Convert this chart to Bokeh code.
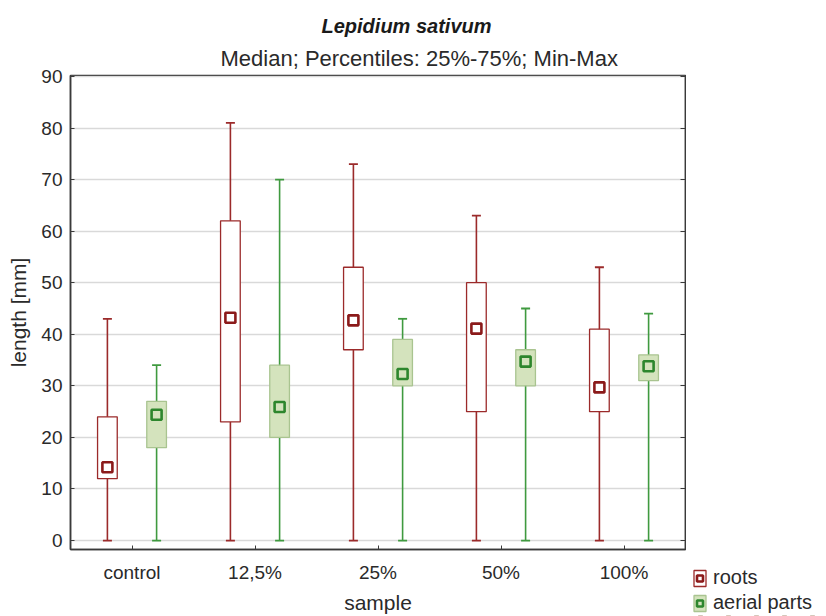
from bokeh.plotting import figure
from bokeh.layouts import row, column, Spacer
from bokeh.models import (ColumnDataSource, Range1d, LinearAxis, Legend, Title,
                          LegendItem, FixedTicker, FactorRange)
from bokeh.transform import dodge
from bokeh.embed import file_html
from bokeh.resources import INLINE

# ---- data ----
categories = ["control", "12,5%", "25%", "50%", "100%"]
roots_min = [0, 0, 0, 0, 0]
roots_q1 = [12, 23, 37, 25, 25]
roots_med = [14.2, 43.2, 42.7, 41.1, 29.7]
roots_q3 = [24, 62, 53, 50, 41]
roots_max = [43, 81, 73, 63, 53]
aerial_min = [0, 0, 0, 0, 0]
aerial_q1 = [18, 20, 30, 30, 31]
aerial_med = [24.4, 25.9, 32.3, 34.7, 33.8]
aerial_q3 = [27, 34, 39, 37, 36]
aerial_max = [34, 70, 43, 45, 44]
y_ticks = [0, 10, 20, 30, 40, 50, 60, 70, 80, 90]
series_names = ["roots", "aerial parts"]

FONT = "Liberation Sans"
RED = "#9b2a2a"
RED_DARK = "#8b1a1a"
GREEN = "#3f9a3f"
GREEN_DARK = "#2d862d"
GREEN_FILL = "#d4e3bd"
GREEN_EDGE = "#a9c490"
TXT = "#2a2a2a"
AX = "#3a3a3a"

H = 616
PW = 686
p = figure(x_range=categories, y_range=Range1d(-1.74, 90.19),
           width=PW, height=H, output_backend="svg", toolbar_location=None,
           min_border_left=70, min_border_right=1, min_border_top=75,
           min_border_bottom=66)
p.background_fill_color = "white"
p.border_fill_color = "white"
p.outline_line_color = AX
p.outline_line_width = 1.5

sources = {
    "roots": ColumnDataSource(dict(cat=categories, lo=roots_min, q1=roots_q1,
                                   med=roots_med, q3=roots_q3, hi=roots_max)),
    "aerial parts": ColumnDataSource(dict(cat=categories, lo=aerial_min, q1=aerial_q1,
                                          med=aerial_med, q3=aerial_q3, hi=aerial_max)),
}
offsets = {"roots": -0.2, "aerial parts": 0.2}
STYLE = {
    "roots": dict(line=RED, dark=RED_DARK, fill="white", edge=RED),
    "aerial parts": dict(line=GREEN, dark=GREEN_DARK, fill=GREEN_FILL, edge=GREEN_EDGE),
}

def box_and_median(fig, src, xs, st):
    b = fig.vbar(x=xs, width=0.16, bottom="q1", top="q3", source=src,
                 fill_color=st["fill"], line_color=st["edge"], line_width=1.3)
    m = fig.scatter(x=xs, y="med", source=src, marker="square", size=10,
                    fill_color=st["fill"], line_color=st["dark"], line_width=2.6)
    return b, m

for name in series_names:
    src, st = sources[name], STYLE[name]
    xs = dodge("cat", offsets[name], range=p.x_range)
    p.segment(x0=xs, y0="lo", x1=xs, y1="hi", source=src, line_color=st["line"], line_width=1.6)
    p.scatter(x=xs, y="lo", source=src, marker="dash", size=9, line_color=st["line"], line_width=1.8)
    p.scatter(x=xs, y="hi", source=src, marker="dash", size=9, line_color=st["line"], line_width=1.8)
    box_and_median(p, src, xs, st)

# axes
p.yaxis.ticker = FixedTicker(ticks=y_ticks)
for ax in (p.xaxis[0], p.yaxis[0]):
    ax.axis_line_color = AX
    ax.axis_line_width = 1.5
    ax.major_tick_line_color = AX
    ax.major_tick_out = 0
    ax.major_tick_in = 4
    ax.minor_tick_line_color = None
    ax.major_label_text_font = FONT
    ax.major_label_text_font_size = "19px"
    ax.major_label_text_color = TXT
    ax.axis_label_text_font = FONT
    ax.axis_label_text_font_style = "normal"
    ax.axis_label_text_font_size = "21px"
    ax.axis_label_text_color = TXT
p.yaxis.axis_label = "length [mm]"
p.yaxis.major_label_standoff = 8
p.yaxis.axis_label_standoff = 8
p.xaxis.axis_label = "sample"
p.xaxis.major_label_standoff = 12
p.xaxis.axis_label_standoff = 5

ry = LinearAxis(ticker=FixedTicker(ticks=y_ticks), major_label_text_font_size="0px",
                major_tick_in=5, major_tick_out=0, minor_tick_line_color=None,
                axis_line_color=AX, axis_line_width=1.5,
                major_tick_line_color=AX, major_label_standoff=0)
p.add_layout(ry, "right")

p.xgrid.grid_line_color = None
p.ygrid.grid_line_color = "#d9d9d9"
p.ygrid.grid_line_width = 1.5
p.ygrid.ticker = FixedTicker(ticks=y_ticks)

# titles (subtitle first = closest to frame)
p.add_layout(Title(text="Median; Percentiles: 25%-75%; Min-Max", text_font=FONT,
                   text_font_size="22px", text_font_style="normal", align="left",
                   offset=150, standoff=9, text_color=TXT), "above")
p.add_layout(Title(text="Lepidium sativum", text_font=FONT, text_font_size="20px",
                   text_font_style="bold italic", align="left", offset=251,
                   standoff=6, text_color="#1a1a1a"), "above")

# ---- legend: small figure below a spacer, right of the chart ----
LW, LH = 826 - PW, 66
lg = figure(width=LW, height=LH, output_backend="svg", toolbar_location=None,
            x_range=FactorRange(factors=categories), y_range=Range1d(1000, 1001),
            x_axis_type=None, y_axis_type=None, min_border=0)
lg.outline_line_color = None
lg.background_fill_color = "white"
lg.border_fill_color = "white"
lg.grid.visible = False
items = []
for name in series_names:
    b, m = box_and_median(lg, sources[name], "cat", STYLE[name])
    items.append(LegendItem(label=name, renderers=[b, m]))

legend = Legend(items=items, location=(6, 2), padding=0, margin=0, spacing=2,
                glyph_width=15, glyph_height=20, label_height=18, label_standoff=6,
                label_text_font=FONT, label_text_font_size="20px",
                label_text_color=TXT, background_fill_alpha=0,
                border_line_color=None, inactive_fill_alpha=0)
lg.add_layout(legend)

right_col = column(Spacer(width=LW, height=H - LH), lg, spacing=0)
layout = row(p, right_col, spacing=0)
open("out.html", "w").write(file_html(layout, INLINE))
